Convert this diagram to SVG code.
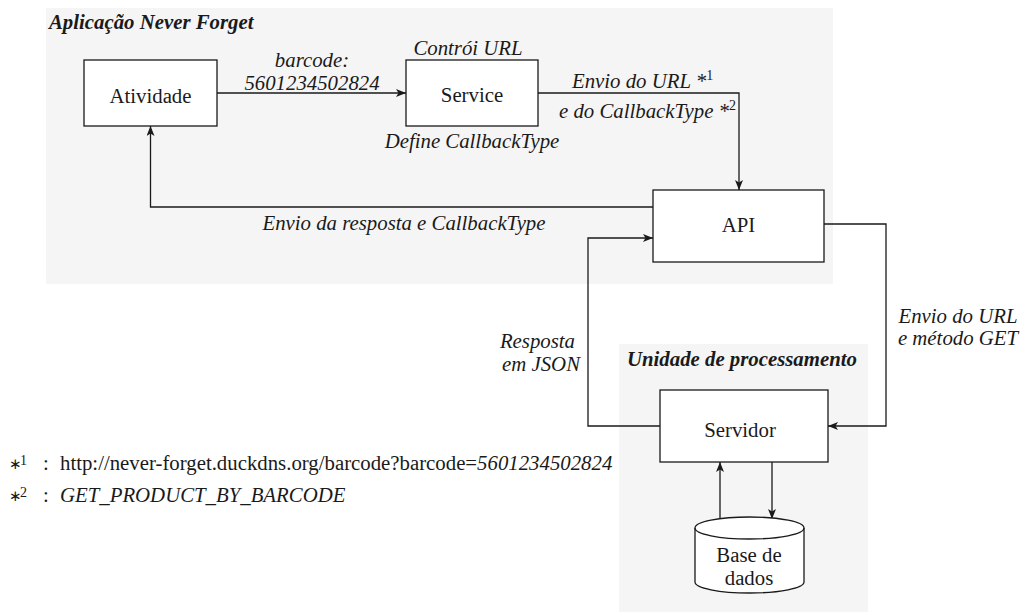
<svg xmlns="http://www.w3.org/2000/svg" width="1024" height="612" viewBox="0 0 1024 612">
<style>
  text { font-family: "Liberation Serif", "Times New Roman", serif; font-size: 20.8px; fill: #1a1a1a; }
  .it { font-style: italic; }
  .bi { font-style: italic; font-weight: bold; }
  .c { text-anchor: middle; }
  .box { fill: #ffffff; stroke: #1a1a1a; stroke-width: 1.3; }
  .grp { fill: #f5f5f5; stroke: none; }
  .edge { fill: none; stroke: #1a1a1a; stroke-width: 1.3; }
  .sup { font-size: 14px; font-style: normal; }
  .ast { font-size: 15px; font-style: normal; }
</style>
<defs>
  <marker id="arr" viewBox="0 0 10 8" refX="10" refY="4" markerWidth="10" markerHeight="8" markerUnits="userSpaceOnUse" orient="auto">
    <path d="M0,0 L10,4 L0,8 L2.5,4 z" fill="#1a1a1a"/>
  </marker>
</defs>

<g id="app-container">
  <rect class="grp" x="46" y="8" width="787" height="276"/>
  <text class="bi" x="49" y="29">Aplicação Never Forget</text>
</g>
<g id="proc-container">
  <rect class="grp" x="619" y="344" width="249" height="268"/>
  <text class="bi" x="627" y="366">Unidade de processamento</text>
</g>

<g id="connectors">
  <path class="edge" d="M217,93 L406,93" marker-end="url(#arr)"/>
  <path class="edge" d="M538,93 L739,93 L739,190" marker-end="url(#arr)"/>
  <path class="edge" d="M653,207 L150.5,207 L150.5,126" marker-end="url(#arr)"/>
  <path class="edge" d="M660,426 L588,426 L588,238 L653,238" marker-end="url(#arr)"/>
  <path class="edge" d="M824,224 L886,224 L886,426 L828,426" marker-end="url(#arr)"/>
  <path class="edge" d="M720,520 L720,462" marker-end="url(#arr)"/>
  <path class="edge" d="M772,462 L772,519" marker-end="url(#arr)"/>
  <text class="it c" x="312" y="67">barcode:</text>
  <text class="it c" x="312" y="90">5601234502824</text>
  <text class="it" x="572" y="88">Envio do URL *<tspan class="sup" dy="-8">1</tspan></text>
  <text class="it" x="559" y="118">e do CallbackType *<tspan class="sup" dy="-8">2</tspan></text>
  <text class="it c" x="404" y="230">Envio da resposta e CallbackType</text>
  <text class="it" x="575" y="348" text-anchor="end">Resposta</text>
  <text class="it" x="580" y="371" text-anchor="end">em JSON</text>
  <text class="it c" x="958" y="323">Envio do URL</text>
  <text class="it c" x="958" y="345">e método GET</text>
</g>

<g id="atividade">
  <rect class="box" x="84" y="60" width="133" height="66"/>
  <text class="c" x="150.5" y="103">Atividade</text>
</g>
<g id="service">
  <rect class="box" x="406" y="60" width="132" height="66"/>
  <text class="c" x="472" y="102">Service</text>
  <text class="it c" x="468" y="55">Contrói URL</text>
  <text class="it c" x="472" y="148">Define CallbackType</text>
</g>
<g id="api">
  <rect class="box" x="653" y="190" width="171" height="72"/>
  <text class="c" x="738.5" y="232">API</text>
</g>
<g id="servidor">
  <rect class="box" x="660" y="390" width="168" height="72"/>
  <text class="c" x="740" y="437">Servidor</text>
</g>
<g id="base-de-dados">
  <path class="box" d="M695,528 A54.5,11 0 0 1 804,528 L804,582 A54.5,11 0 0 1 695,582 Z"/>
  <path class="edge" d="M695,528 A54.5,11 0 0 0 804,528"/>
  <text class="c" x="749" y="562">Base de</text>
  <text class="c" x="749" y="585">dados</text>
</g>

<g id="footnotes">
  <text x="9" y="470"><tspan class="ast" y="469">∗</tspan><tspan class="sup" x="20" y="465">1</tspan><tspan x="43" y="470">:</tspan><tspan x="60">http://never-forget.duckdns.org/barcode?barcode=</tspan><tspan class="it">5601234502824</tspan></text>
  <text x="9" y="502"><tspan class="ast" y="501">∗</tspan><tspan class="sup" x="20" y="497">2</tspan><tspan x="43" y="502">:</tspan><tspan class="it" x="60">GET_PRODUCT_BY_BARCODE</tspan></text>
</g>
</svg>
